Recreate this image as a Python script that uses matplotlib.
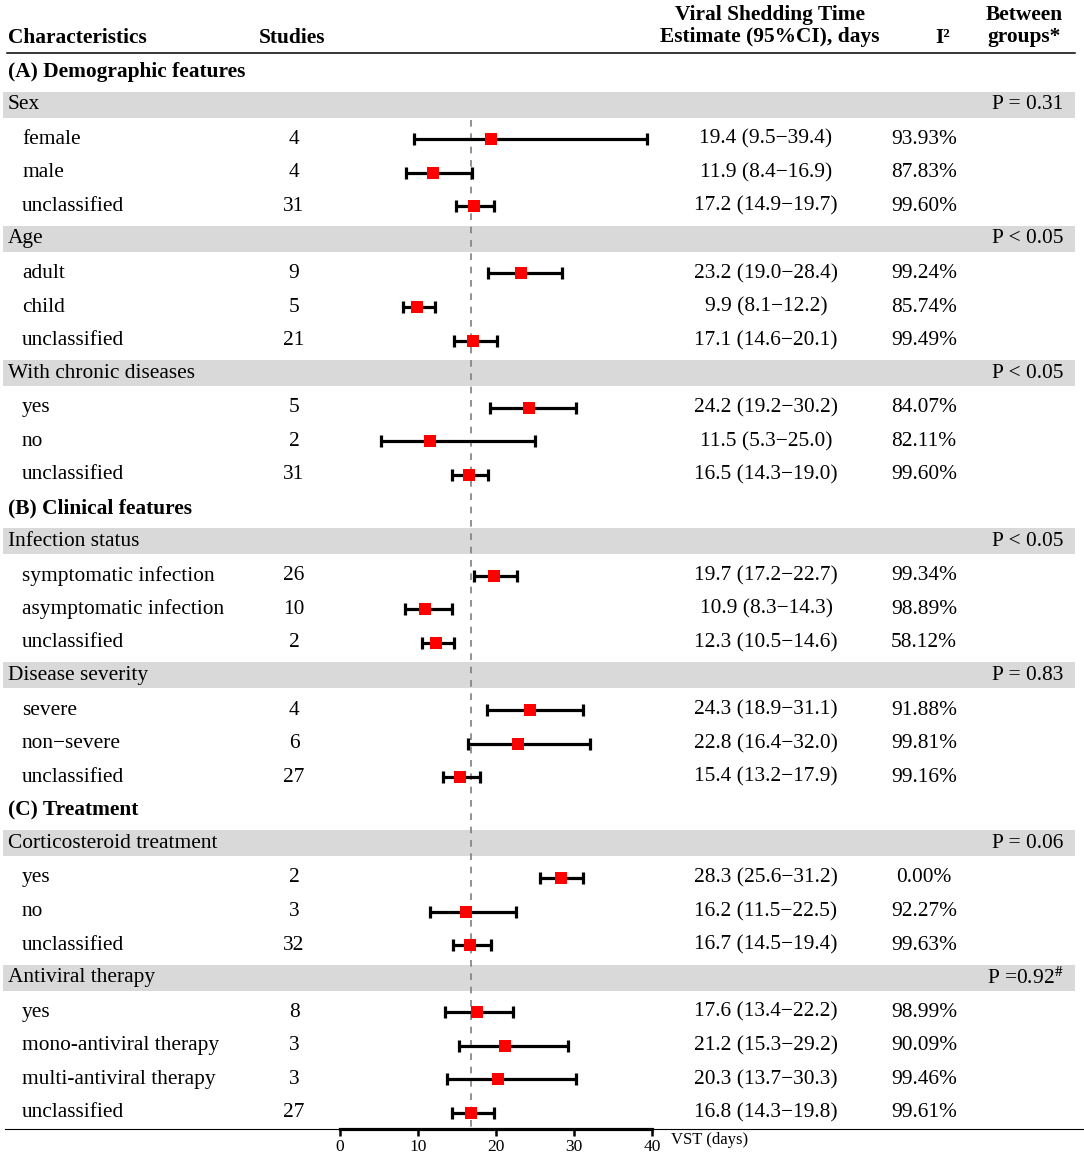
import matplotlib.pyplot as plt

plt.rcParams['font.family'] = ['Liberation Serif', 'DejaVu Serif']
plt.rcParams['mathtext.fontset'] = 'stix'

# table rows: kind is 'sec' (bold section), 'grp' (grey band) or 'item'
kinds = ['sec', 'grp', 'item', 'item', 'item',
         'grp', 'item', 'item', 'item',
         'grp', 'item', 'item', 'item',
         'sec', 'grp', 'item', 'item', 'item',
         'grp', 'item', 'item', 'item',
         'sec', 'grp', 'item', 'item', 'item',
         'grp', 'item', 'item', 'item', 'item']
labels = ['(A) Demographic features', 'Sex', 'female', 'male', 'unclassified',
          'Age', 'adult', 'child', 'unclassified',
          'With chronic diseases', 'yes', 'no', 'unclassified',
          '(B) Clinical features', 'Infection status', 'symptomatic infection',
          'asymptomatic infection', 'unclassified',
          'Disease severity', 'severe', 'non\u2212severe', 'unclassified',
          '(C) Treatment', 'Corticosteroid treatment', 'yes', 'no', 'unclassified',
          'Antiviral therapy', 'yes', 'mono-antiviral therapy',
          'multi-antiviral therapy', 'unclassified']
p_values = {1: 'P = 0.31', 5: 'P < 0.05', 9: 'P < 0.05', 14: 'P < 0.05',
            18: 'P = 0.83', 23: 'P = 0.06', 27: r'P =0.92$^{\#}$'}

# values for the item rows, in order
studies = [4, 4, 31, 9, 5, 21, 5, 2, 31, 26, 10, 2, 4, 6, 27, 2, 3, 32, 8, 3, 3, 27]
est = [19.4, 11.9, 17.2, 23.2, 9.9, 17.1, 24.2, 11.5, 16.5, 19.7, 10.9, 12.3,
       24.3, 22.8, 15.4, 28.3, 16.2, 16.7, 17.6, 21.2, 20.3, 16.8]
lo = [9.5, 8.4, 14.9, 19.0, 8.1, 14.6, 19.2, 5.3, 14.3, 17.2, 8.3, 10.5,
      18.9, 16.4, 13.2, 25.6, 11.5, 14.5, 13.4, 15.3, 13.7, 14.3]
hi = [39.4, 16.9, 19.7, 28.4, 12.2, 20.1, 30.2, 25.0, 19.0, 22.7, 14.3, 14.6,
      31.1, 32.0, 17.9, 31.2, 22.5, 19.4, 22.2, 29.2, 30.3, 19.8]
i2 = ['93.93%', '87.83%', '99.60%', '99.24%', '85.74%', '99.49%', '84.07%',
      '82.11%', '99.60%', '99.34%', '98.89%', '58.12%', '91.88%', '99.81%',
      '99.16%', '0.00%', '92.27%', '99.63%', '98.99%', '90.09%', '99.46%', '99.61%']
overall = 16.8

W, H = 1084, 1156
fs = 15.4
row_y = [72 + 33.58 * i for i in range(len(kinds))]

fig = plt.figure(figsize=(W / 100, H / 100), dpi=100)
tab = fig.add_axes([0, 0, 1, 1])
tab.set_xlim(0, W)
tab.set_ylim(H, 0)
tab.axis('off')

# header
tab.text(8, 38, 'Characteristics', fontsize=fs, fontweight='bold', va='center')
tab.text(259, 38, 'Studies', fontsize=fs, fontweight='bold', va='center')
tab.text(770, 26, 'Viral Shedding Time\nEstimate (95%CI), days', fontsize=fs,
         fontweight='bold', va='center', ha='center', linespacing=1.1)
tab.text(943, 38, 'I\u00b2', fontsize=fs, fontweight='bold', va='center', ha='center')
tab.text(1024, 26, 'Between\ngroups*', fontsize=fs, fontweight='bold',
         va='center', ha='center', linespacing=1.1)
tab.plot([7, 1075], [53, 53], color='black', lw=1.1)

item_y = []
for i, (k, lab) in enumerate(zip(kinds, labels)):
    y = row_y[i]
    if k == 'sec':
        tab.text(8, y, lab, fontsize=fs, fontweight='bold', va='center')
    elif k == 'grp':
        tab.axhspan(y - 14, y + 12, xmin=3 / W, xmax=1075 / W, color='#d9d9d9', lw=0)
        tab.text(8, y - 1, lab, fontsize=fs, va='center')
        tab.text(1063, y - 1, p_values[i], fontsize=fs, va='center', ha='right')
    else:
        item_y.append(y)
        tab.text(22, y, lab, fontsize=fs, va='center')

for y, n, e, l, h, s in zip(item_y, studies, est, lo, hi, i2):
    tab.text(294, y, str(n), fontsize=fs, va='center', ha='center')
    tab.text(766, y, f'{e:.1f} ({l:.1f}\u2212{h:.1f})', fontsize=fs, va='center', ha='center')
    tab.text(924, y, s, fontsize=fs, va='center', ha='center')

tab.plot([5, W], [1129, 1129], color='black', lw=0.8)

# forest panel
ax_top, ax_bot = 58, 1129
ax = fig.add_axes([340 / W, (H - ax_bot) / H, 312 / W, (ax_bot - ax_top) / H])
ax.patch.set_alpha(0)
ax.set_xlim(0, 40)
ax.set_ylim(ax_bot, ax_top)
for sp in ['top', 'left', 'right']:
    ax.spines[sp].set_visible(False)
ax.spines['bottom'].set_linewidth(2.3)
ax.set_yticks([])
ax.set_xticks([0, 10, 20, 30, 40])
ax.tick_params(axis='x', direction='out', length=5, width=1.8, pad=2, labelsize=12.5)

ax.vlines(overall, 120, ax_bot, colors='#7f7f7f', lw=1.2, linestyles=(0, (4, 4)), zorder=1)
xerr = [[e - l for e, l in zip(est, lo)], [h - e for e, h in zip(est, hi)]]
ax.errorbar(est, item_y, xerr=xerr, fmt='none', ecolor='black', elinewidth=2.3,
            capsize=4, capthick=2.3, zorder=2)
ax.plot(est, item_y, 's', color='#ff0000', markersize=8.7, markeredgewidth=0, zorder=3)

tab.text(671, 1140, 'VST (days)', fontsize=12, va='center')

fig.savefig('out.png', dpi=100)
